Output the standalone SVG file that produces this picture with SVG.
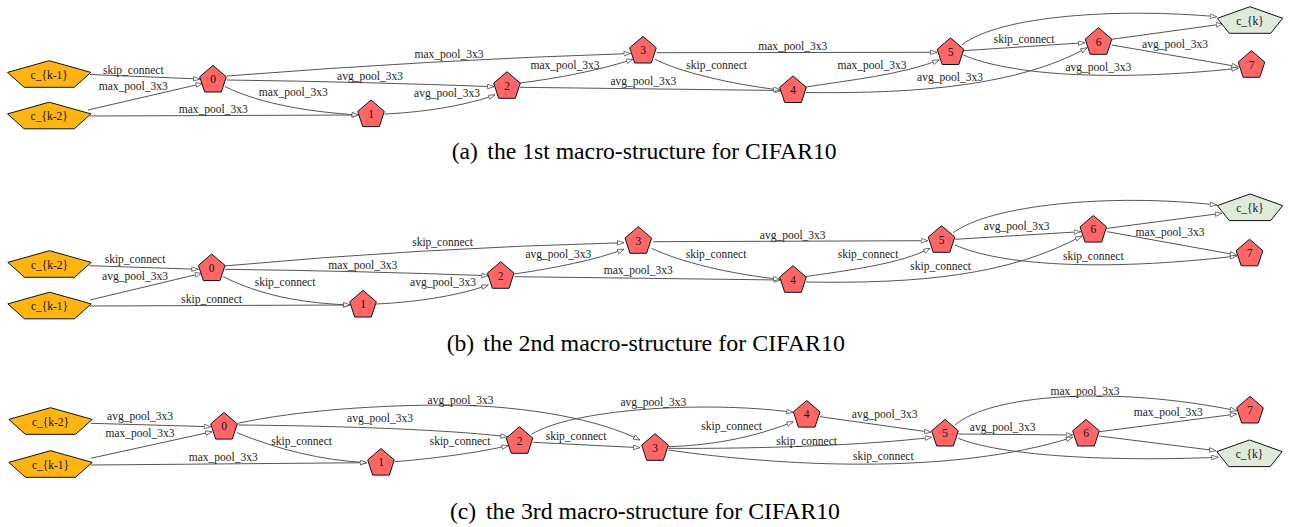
<svg xmlns="http://www.w3.org/2000/svg" xmlns:xlink="http://www.w3.org/1999/xlink" width="1291" height="527" viewBox="0 0 1291 527">
<style>
.e{fill:none;stroke:#555;stroke-width:1;marker-end:url(#arr)}
.el{font-family:"Liberation Serif","Times New Roman",serif;font-size:11.5px;fill:#222;text-anchor:middle}
.nl{font-family:"Liberation Serif","Times New Roman",serif;font-size:11.5px;fill:#111;text-anchor:middle}
.red{fill:#ff6666;stroke:#111;stroke-width:1}
.inp{fill:#ffb511;stroke:#111;stroke-width:1}
.out{fill:#dfeadb;stroke:#111;stroke-width:1}
.cap{font-family:"Liberation Serif","Times New Roman",serif;font-size:23.6px;fill:#000}
</style>
<defs>
<marker id="arr" markerUnits="userSpaceOnUse" markerWidth="8" markerHeight="6" refX="7" refY="2.6" orient="auto">
<path d="M0.5,0.3 L7,2.6 L0.5,4.9 Z" fill="#fff" stroke="#555" stroke-width="0.8"/>
</marker>
<path id="pn" d="M0,-13.3 L13.3,-1.9 L8.3,13.3 L-8.3,13.3 L-13.3,-1.9 Z"/>
<path id="pin" d="M0,-13.3 L41.7,-1.6 L25,13.3 L-25,13.3 L-41.7,-1.6 Z"/>
<path id="pout" d="M0,-13.3 L32.7,-1.7 L20.7,13.3 L-20.7,13.3 L-32.7,-1.7 Z"/>
</defs>
<rect width="1291" height="527" fill="#fff"/>

<!-- ===== Panel (a) ===== -->
<g id="connectors-a">
<path class="e" d="M90,74.5 L200,79"/>
<path class="e" d="M88,110 L202.5,83.5"/>
<path class="e" d="M90,116 L358.5,115"/>
<path class="e" d="M225,86.5 C260,104 310,112 358.5,115"/>
<path class="e" d="M227,76 Q430,60 630.5,53.5"/>
<path class="e" d="M227,80 Q370,82 494,86.7"/>
<path class="e" d="M384.5,114 C430,112 470,104 495,95"/>
<path class="e" d="M520,83 C560,78 600,70 633,59.3"/>
<path class="e" d="M520,87.3 L781.5,90.5"/>
<path class="e" d="M655,59.3 C680,72 730,84 780,90"/>
<path class="e" d="M657,52.7 L937,52.3"/>
<path class="e" d="M806,87 C850,80 900,75 939.3,60"/>
<path class="e" d="M806,92.5 C920,94 1020,85 1087.3,47.7"/>
<path class="e" d="M963.3,50.7 L1085,42.7"/>
<path class="e" d="M963.3,55 C1010,75 1110,82 1238.3,68.3"/>
<path class="e" d="M961.7,45 C1000,15 1120,8 1216.7,16.7"/>
<path class="e" d="M1111.7,39.3 L1222.7,24"/>
<path class="e" d="M1111.7,45 L1238.3,66.7"/>
<text class="el" x="133.3" y="74.2">skip_connect</text>
<text class="el" x="133.3" y="90.2">max_pool_3x3</text>
<text class="el" x="213.3" y="112.8">max_pool_3x3</text>
<text class="el" x="293.3" y="96.2">max_pool_3x3</text>
<text class="el" x="449" y="58">max_pool_3x3</text>
<text class="el" x="370" y="80.2">avg_pool_3x3</text>
<text class="el" x="447" y="96.5">avg_pool_3x3</text>
<text class="el" x="565" y="68.5">max_pool_3x3</text>
<text class="el" x="643.3" y="85.2">avg_pool_3x3</text>
<text class="el" x="716.7" y="68.5">skip_connect</text>
<text class="el" x="792.7" y="49.5">max_pool_3x3</text>
<text class="el" x="872" y="68.5">max_pool_3x3</text>
<text class="el" x="950" y="81.2">avg_pool_3x3</text>
<text class="el" x="1024" y="42.8">skip_connect</text>
<text class="el" x="1098.3" y="71.2">avg_pool_3x3</text>
<text class="el" x="1175" y="47.8">avg_pool_3x3</text>
</g>
<g id="a-ck1"><use href="#pin" x="49.2" y="74" class="inp"/><text class="nl" x="49.2" y="78.5">c_{k-1}</text></g>
<g id="a-ck2"><use href="#pin" x="49.2" y="115.5" class="inp"/><text class="nl" x="49.2" y="120">c_{k-2}</text></g>
<g id="a-n0"><use href="#pn" x="213" y="78.7" class="red"/><text class="nl" x="213" y="83.2">0</text></g>
<g id="a-n1"><use href="#pn" x="371" y="113.3" class="red"/><text class="nl" x="371" y="117.8">1</text></g>
<g id="a-n2"><use href="#pn" x="507" y="85" class="red"/><text class="nl" x="507" y="89.5">2</text></g>
<g id="a-n3"><use href="#pn" x="643" y="49.7" class="red"/><text class="nl" x="643" y="54.2">3</text></g>
<g id="a-n4"><use href="#pn" x="793" y="89.2" class="red"/><text class="nl" x="793" y="93.7">4</text></g>
<g id="a-n5"><use href="#pn" x="950.5" y="51.2" class="red"/><text class="nl" x="950.5" y="55.7">5</text></g>
<g id="a-n6"><use href="#pn" x="1098.5" y="41" class="red"/><text class="nl" x="1098.5" y="45.5">6</text></g>
<g id="a-n7"><use href="#pn" x="1251.5" y="64" class="red"/><text class="nl" x="1251.5" y="68.5">7</text></g>
<g id="a-ck"><use href="#pout" x="1250" y="20" class="out"/><text class="nl" x="1250" y="24.5">c_{k}</text></g>
<g id="caption-a"><text class="cap" x="451.7" y="159.3">(a)</text><text class="cap" x="487.3" y="159.3" textLength="349.4" lengthAdjust="spacingAndGlyphs">the 1st macro-structure for CIFAR10</text></g>

<!-- ===== Panel (b) ===== -->
<g id="connectors-b">
<path class="e" d="M89.3,265.7 L198.3,269.3"/>
<path class="e" d="M90,300 L201.7,273.3"/>
<path class="e" d="M90,306 L350,305"/>
<path class="e" d="M223.3,276.7 C260,295 300,303 350,305"/>
<path class="e" d="M224,266 Q420,248 624,242.7"/>
<path class="e" d="M225,269.3 Q360,271 488.3,275.7"/>
<path class="e" d="M376,304 C420,302 460,295 488.3,285"/>
<path class="e" d="M514.3,274 C555,268 595,260 624,249.3"/>
<path class="e" d="M515,276.7 L780.7,280"/>
<path class="e" d="M651.7,248.3 C680,262 730,274 780,279.3"/>
<path class="e" d="M653.3,241.7 L927.7,240.7"/>
<path class="e" d="M806,276.5 C850,270 900,264 930,248.3"/>
<path class="e" d="M806,282 C920,284 1010,275 1081.7,236"/>
<path class="e" d="M955,239.3 L1080.7,231.7"/>
<path class="e" d="M955,245 C1000,265 1100,272 1236.7,256"/>
<path class="e" d="M953.3,232.7 C990,205 1110,193 1216.7,205"/>
<path class="e" d="M1107.3,228.3 L1221.7,213.3"/>
<path class="e" d="M1107.3,231.7 L1236.7,255"/>
<text class="el" x="135" y="262.8">skip_connect</text>
<text class="el" x="135" y="279.5">avg_pool_3x3</text>
<text class="el" x="211.7" y="302.5">skip_connect</text>
<text class="el" x="285" y="286.2">skip_connect</text>
<text class="el" x="442.5" y="246.2">skip_connect</text>
<text class="el" x="362.7" y="268.5">max_pool_3x3</text>
<text class="el" x="443" y="285.5">avg_pool_3x3</text>
<text class="el" x="558.3" y="257.8">avg_pool_3x3</text>
<text class="el" x="638.3" y="274.2">max_pool_3x3</text>
<text class="el" x="716" y="257.8">skip_connect</text>
<text class="el" x="792.7" y="238.5">avg_pool_3x3</text>
<text class="el" x="868" y="257.5">skip_connect</text>
<text class="el" x="940.7" y="270.2">skip_connect</text>
<text class="el" x="1016.7" y="230.2">avg_pool_3x3</text>
<text class="el" x="1093.3" y="259.5">skip_connect</text>
<text class="el" x="1170" y="236.2">max_pool_3x3</text>
</g>
<g id="b-ck2"><use href="#pin" x="49.5" y="264" class="inp"/><text class="nl" x="49.5" y="268.5">c_{k-2}</text></g>
<g id="b-ck1"><use href="#pin" x="49.5" y="305.5" class="inp"/><text class="nl" x="49.5" y="310">c_{k-1}</text></g>
<g id="b-n0"><use href="#pn" x="211.7" y="267.3" class="red"/><text class="nl" x="211.7" y="271.8">0</text></g>
<g id="b-n1"><use href="#pn" x="363" y="303.7" class="red"/><text class="nl" x="363" y="308.2">1</text></g>
<g id="b-n2"><use href="#pn" x="500.7" y="275" class="red"/><text class="nl" x="500.7" y="279.5">2</text></g>
<g id="b-n3"><use href="#pn" x="638.3" y="240" class="red"/><text class="nl" x="638.3" y="244.5">3</text></g>
<g id="b-n4"><use href="#pn" x="793" y="279" class="red"/><text class="nl" x="793" y="283.5">4</text></g>
<g id="b-n5"><use href="#pn" x="941.5" y="239" class="red"/><text class="nl" x="941.5" y="243.5">5</text></g>
<g id="b-n6"><use href="#pn" x="1093.3" y="228.8" class="red"/><text class="nl" x="1093.3" y="233.3">6</text></g>
<g id="b-n7"><use href="#pn" x="1249.5" y="252.5" class="red"/><text class="nl" x="1249.5" y="257">7</text></g>
<g id="b-ck"><use href="#pout" x="1250" y="207.3" class="out"/><text class="nl" x="1250" y="211.8">c_{k}</text></g>
<g id="caption-b"><text class="cap" x="446.7" y="350.7">(b)</text><text class="cap" x="483.3" y="350.7" textLength="361.7" lengthAdjust="spacingAndGlyphs">the 2nd macro-structure for CIFAR10</text></g>

<!-- ===== Panel (c) ===== -->
<g id="connectors-c">
<path class="e" d="M90.7,423.3 L210.7,426.7"/>
<path class="e" d="M90.7,458.3 L212,431.7"/>
<path class="e" d="M90.7,465 L366.7,462.7"/>
<path class="e" d="M236.7,432.7 C280,450 320,460 366.7,462.7"/>
<path class="e" d="M237.7,423.3 C300,410 380,405 450,405 C530,406 600,420 640,440"/>
<path class="e" d="M238.3,425 C350,426 450,430 507.3,436.7"/>
<path class="e" d="M395,461.7 C440,458 480,452 508.3,445.7"/>
<path class="e" d="M533.3,442.3 L640,447.7"/>
<path class="e" d="M531.7,434.3 C570,410 700,400 793.3,412.3"/>
<path class="e" d="M668.3,446.7 C720,445 760,435 793.3,421.7"/>
<path class="e" d="M668.3,448.3 C760,449 870,445 931.7,437.3"/>
<path class="e" d="M668.3,450 C780,466 950,476 1072.7,437.3"/>
<path class="e" d="M820,416.7 L931,432.3"/>
<path class="e" d="M958.3,434 L1072.7,435"/>
<path class="e" d="M955,425 C990,395 1110,385 1236.7,410.7"/>
<path class="e" d="M1099.3,431.7 L1236.7,414"/>
<path class="e" d="M958.3,438.3 C1000,455 1100,462 1218.3,457.3"/>
<path class="e" d="M1099.3,436 L1216,450.7"/>
<text class="el" x="140" y="420.2">avg_pool_3x3</text>
<text class="el" x="140" y="436.8">max_pool_3x3</text>
<text class="el" x="223.3" y="461.2">max_pool_3x3</text>
<text class="el" x="301.7" y="444.5">skip_connect</text>
<text class="el" x="460.5" y="403.5">avg_pool_3x3</text>
<text class="el" x="380" y="421.8">avg_pool_3x3</text>
<text class="el" x="460" y="444.5">skip_connect</text>
<text class="el" x="576" y="440.2">skip_connect</text>
<text class="el" x="653.3" y="405.8">avg_pool_3x3</text>
<text class="el" x="731.7" y="430.2">skip_connect</text>
<text class="el" x="806.7" y="444.5">skip_connect</text>
<text class="el" x="883.3" y="459.5">skip_connect</text>
<text class="el" x="884.7" y="417.8">avg_pool_3x3</text>
<text class="el" x="1002.7" y="430.8">avg_pool_3x3</text>
<text class="el" x="1085" y="395.2">max_pool_3x3</text>
<text class="el" x="1168.3" y="416.2">max_pool_3x3</text>
</g>
<g id="c-ck2"><use href="#pin" x="50.5" y="421" class="inp"/><text class="nl" x="50.5" y="425.5">c_{k-2}</text></g>
<g id="c-ck1"><use href="#pin" x="50.5" y="464" class="inp"/><text class="nl" x="50.5" y="468.5">c_{k-1}</text></g>
<g id="c-n0"><use href="#pn" x="224" y="425.8" class="red"/><text class="nl" x="224" y="430.3">0</text></g>
<g id="c-n1"><use href="#pn" x="381" y="461.8" class="red"/><text class="nl" x="381" y="466.3">1</text></g>
<g id="c-n2"><use href="#pn" x="519.5" y="440" class="red"/><text class="nl" x="519.5" y="444.5">2</text></g>
<g id="c-n3"><use href="#pn" x="655" y="447" class="red"/><text class="nl" x="655" y="451.5">3</text></g>
<g id="c-n4"><use href="#pn" x="806.7" y="413.8" class="red"/><text class="nl" x="806.7" y="418.3">4</text></g>
<g id="c-n5"><use href="#pn" x="945" y="432.7" class="red"/><text class="nl" x="945" y="437.2">5</text></g>
<g id="c-n6"><use href="#pn" x="1086" y="432.7" class="red"/><text class="nl" x="1086" y="437.2">6</text></g>
<g id="c-n7"><use href="#pn" x="1250" y="409.7" class="red"/><text class="nl" x="1250" y="414.2">7</text></g>
<g id="c-ck"><use href="#pout" x="1249.5" y="453.3" class="out"/><text class="nl" x="1249.5" y="457.8">c_{k}</text></g>
<g id="caption-c"><text class="cap" x="450" y="519.3">(c)</text><text class="cap" x="486" y="519.3" textLength="354" lengthAdjust="spacingAndGlyphs">the 3rd macro-structure for CIFAR10</text></g>
</svg>
